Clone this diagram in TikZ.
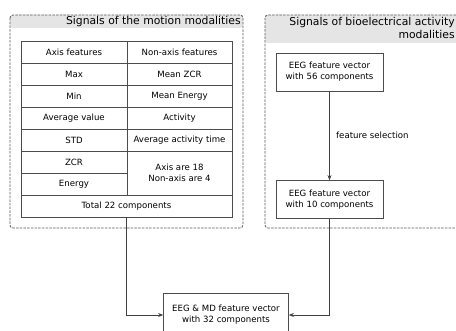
\documentclass[tikz,border=0pt]{standalone}
\usepackage{fontspec}
\setmainfont{DejaVu Sans}
\usetikzlibrary{arrows.meta, calc}

\begin{document}
\begin{tikzpicture}[x=1pt, y=-1pt, >={Stealth[length=5pt, width=4pt]}, line width=0.7pt,
  group/.style={draw=black!65, line width=0.8pt, dash pattern=on 2.5pt off 1.2pt, rounded corners=3pt},
  band/.style={fill=black!10, rounded corners=3pt},
  cell/.style={draw=black!70, inner sep=0pt, minimum height=22pt, align=center, font=\fontsize{8.6}{11}\selectfont},
  vecbox/.style={draw=black!70, inner sep=0pt, minimum width=107pt, minimum height=38pt, align=center, font=\fontsize{8.6}{11}\selectfont},
  link/.style={->, draw=black!75}]
  \useasboundingbox (0,0) rectangle (456,331);

  % motion modalities
  \fill[band] (10,15) rectangle (243,28);
  \draw[group] (10,15) rectangle (243,228);
  \node[anchor=east, inner sep=1pt, font=\fontsize{10.8}{12}\selectfont] (motiontitle) at (242,21.5) {Signals of the motion modalities};

  \node[cell, minimum width=106pt] (axis)   at (74,52)  {Axis features};
  \node[cell, minimum width=106pt] (max)    at (74,74)  {Max};
  \node[cell, minimum width=106pt] (min)    at (74,96)  {Min};
  \node[cell, minimum width=106pt] (avg)    at (74,118) {Average value};
  \node[cell, minimum width=106pt] (std)    at (74,140) {STD};
  \node[cell, minimum width=106pt] (zcr)    at (74,162) {ZCR};
  \node[cell, minimum width=106pt] (energy) at (74,184) {Energy};

  \node[cell, minimum width=105pt] (nonaxis)    at (179.5,52)  {Non-axis features};
  \node[cell, minimum width=105pt] (meanzcr)    at (179.5,74)  {Mean ZCR};
  \node[cell, minimum width=105pt] (meanenergy) at (179.5,96)  {Mean Energy};
  \node[cell, minimum width=105pt] (activity)   at (179.5,118) {Activity};
  \node[cell, minimum width=105pt] (acttime)    at (179.5,140) {Average activity time};
  \node[cell, minimum width=105pt, minimum height=44pt] (counts) at (179.5,173) {Axis are 18\\Non-axis are 4};

  \node[cell, minimum width=211pt] (total) at (126.5,206) {Total 22 components};

  % bioelectrical activity
  \fill[band] (265,15) rectangle (460,43);
  \draw[group] (265,15) rectangle (460,228);
  \node[anchor=north east, align=right, inner sep=1pt, font=\fontsize{10.8}{13}\selectfont] (biotitle) at (456,15.5) {Signals of bioelectrical activity\\modalities};

  \node[vecbox] (eeg56) at (329.5,72)    {EEG feature vector\\with 56 components};
  \node[vecbox] (eeg10) at (329.5,199.5) {EEG feature vector\\with 10 components};
  \draw[link] (eeg56) -- (eeg10) node[midway, right=3pt, font=\fontsize{8.6}{11}\selectfont] {feature selection};

  % fused vector
  \node[vecbox, minimum width=125pt, minimum height=44pt] (fused) at (226,315) {EEG \& MD feature vector\\with 32 components};
  \draw[link] (total.south) |- (fused.west);
  \draw[link] (eeg10.south) |- (fused.east);
\end{tikzpicture}
\end{document}
